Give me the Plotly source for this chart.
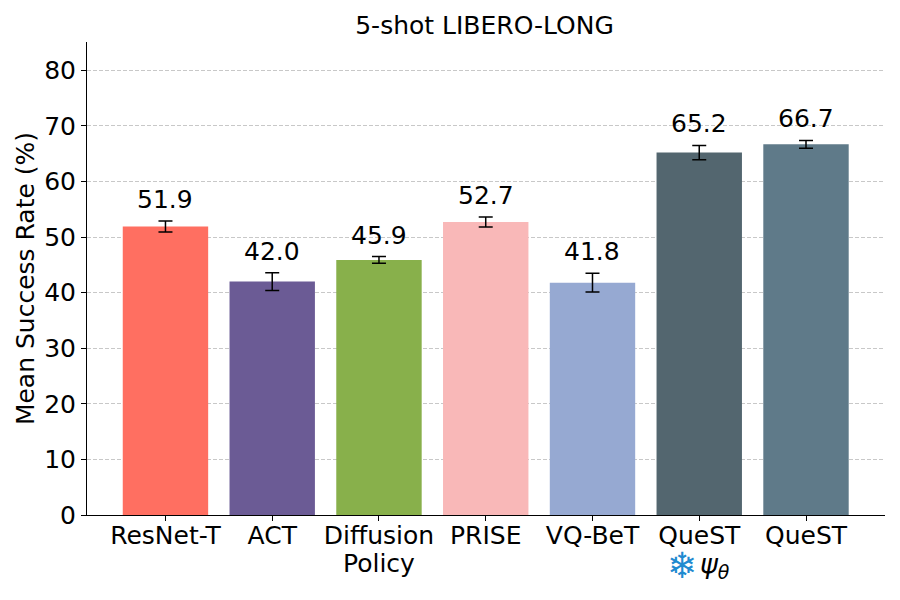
import plotly.graph_objects as go

tick_labels = ["ResNet-T", "ACT", "Diffusion", "PRISE", "VQ-BeT", "QueST", "QueST"]
second_lines = {2: "Policy"}
values = [51.9, 42.0, 45.9, 52.7, 41.8, 65.2, 66.7]
errors = [1.0, 1.6, 0.6, 0.9, 1.7, 1.3, 0.7]
colors = ["#FF6F61", "#6B5B95", "#88B04B", "#F9B8B8", "#96A9D2", "#53666F", "#5F7A89"]
y_ticks = [0, 10, 20, 30, 40, 50, 60, 70, 80]
positions = list(range(len(values)))
FONT = "DejaVu Sans"
SIZE = 25

fig = go.Figure(go.Bar(
    x=positions, y=values, width=0.8,
    marker=dict(color=colors, line=dict(width=0)),
    error_y=dict(type="data", array=errors, color="black", thickness=1.5, width=7),
    showlegend=False,
))

for p, v, e in zip(positions, values, errors):
    fig.add_annotation(
        x=p, y=v + e, text=f"{v:.1f}", showarrow=False, yanchor="bottom",
        yshift=5, font=dict(family=FONT, size=SIZE, color="black"),
    )

# second lines of the tick labels, tighter than Plotly's own line spacing
for p, t in second_lines.items():
    fig.add_annotation(x=p, yref="paper", y=0, yanchor="middle", yshift=-48, text=t,
                       showarrow=False, font=dict(family=FONT, size=SIZE, color="black"))
fig.add_annotation(x=5, xshift=-17, yref="paper", y=0, yanchor="middle", yshift=-50, text="❄",
                   showarrow=False, font=dict(family=FONT, size=36, color="#1f8ad0"))
fig.add_annotation(x=5, xshift=16, yref="paper", y=0, yanchor="middle", yshift=-50,
                   text="<i>ψ<sub>θ</sub></i>",
                   showarrow=False, font=dict(family=FONT, size=27, color="black"))

fig.update_layout(
    width=900, height=600, autosize=False,
    margin=dict(l=79, r=23, t=34, b=93),
    paper_bgcolor="white", plot_bgcolor="white",
    font=dict(family=FONT, size=SIZE, color="black"),
    title=dict(text="5-shot LIBERO-LONG", x=0.5295, xanchor="center", y=0.972, yanchor="middle",
               font=dict(family=FONT, size=SIZE, color="black")),
    xaxis=dict(
        range=[-0.735, 6.74], tickmode="array", tickvals=positions, ticktext=tick_labels,
        showgrid=False, zeroline=False, showline=True, linecolor="black", linewidth=1,
        ticks="outside", ticklen=5, tickwidth=1, tickcolor="black", tickangle=0,
        tickfont=dict(family=FONT, size=SIZE), ticklabelstandoff=-7,
    ),
    yaxis=dict(
        range=[0, 85.1], tickmode="array", tickvals=y_ticks,
        title=dict(text="Mean Success Rate (%)", font=dict(family=FONT, size=SIZE), standoff=2),
        showgrid=True, gridcolor="#c8c8c8", griddash="4px,2px", gridwidth=1,
        zeroline=False, showline=True, linecolor="black", linewidth=1,
        ticks="outside", ticklen=5, tickwidth=1, tickcolor="black",
        tickfont=dict(family=FONT, size=SIZE),
    ),
)

fig.write_html("out.html")
